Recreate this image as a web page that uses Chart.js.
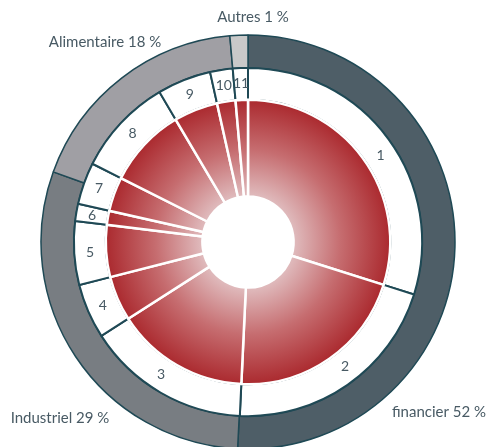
<!DOCTYPE html>
<html>
<head>
<meta charset="utf-8">
<script src="https://cdn.jsdelivr.net/npm/chart.js@4.4.1/dist/chart.umd.min.js"></script>
<style>
    html, body { margin: 0; padding: 0; background: #ffffff; }
</style>
</head>
<body>
<canvas id="graf" width="488" height="447"></canvas>
<script>
// outer ring: sectors (printed percent + share of the ring as drawn)
const secteurs    = ['financier', 'Industriel', 'Alimentaire', 'Autres'];
const secteursPct = [52, 29, 18, 1];
const secteursArc = [50.8, 29.7, 18.1, 1.4];

// inner pie: numbered positions
const postes    = ['1', '2', '3', '4', '5', '6', '7', '8', '9', '10', '11'];
const postesArc = [29.9, 20.9, 15.2, 5.1, 5.9, 1.6, 3.9, 9.1, 5.0, 2.1, 1.4];

const couleursSecteurs = ['#4e5e67', '#787d82', '#a09fa4', '#c9c9c9'];
const ligne = '#1f4955';
const texte = '#485a64';

let degrade = null;

function degradeRouge(context) {
    const chart = context.chart;
    const area = chart.chartArea;
    if (!area) return '#b03035';
    if (degrade) return degrade;
    const cx = (area.left + area.right) / 2;
    const cy = (area.top + area.bottom) / 2;
    const r = chart.getDatasetMeta(context.datasetIndex).controller.outerRadius || 142;
    const g = chart.ctx.createRadialGradient(cx, cy, 0, cx, cy, r);
    g.addColorStop(0, '#f4e9ea');
    g.addColorStop(0.32, '#e0bcbe');
    g.addColorStop(0.65, '#c66d70');
    g.addColorStop(1, '#ab2a2f');
    degrade = g;
    return g;
}

// where the sector names sit, relative to the centre
const posEtiquettes = [[191, 170], [-188, 176], [-143, -200], [5, -225]];
// where along its arc each number sits (0 = start, 1 = end)
const posNumeros = [0.53, 0.46, 0.56, 0.5, 0.5, 0.5, 0.5, 0.5, 0.5, 0.5, 0.5];

const etiquettes = {
    id: 'etiquettes',
    afterDatasetsDraw(chart) {
        const ctx = chart.ctx;
        const area = chart.chartArea;
        const cx = (area.left + area.right) / 2;
        const cy = (area.top + area.bottom) / 2;
        ctx.save();
        ctx.fillStyle = texte;
        ctx.textAlign = 'center';
        ctx.textBaseline = 'middle';

        ctx.font = '14px Lato';
        chart.getDatasetMeta(1).data.forEach((arc, i) => {
            const p = arc.getProps(['x', 'y', 'startAngle', 'endAngle', 'innerRadius', 'outerRadius'], true);
            const a = p.startAngle + (p.endAngle - p.startAngle) * posNumeros[i];
            const r = (p.innerRadius + p.outerRadius) / 2;
            ctx.fillText(postes[i], p.x + Math.cos(a) * r, p.y + Math.sin(a) * r);
        });

        ctx.font = '15px Lato';
        secteurs.forEach((nom, i) => {
            ctx.fillText(nom + ' ' + secteursPct[i] + ' %', cx + posEtiquettes[i][0], cy + posEtiquettes[i][1]);
        });
        ctx.restore();
    }
};

new Chart(document.getElementById('graf'), {
    type: 'doughnut',
    data: {
        labels: postes,
        datasets: [
            {
                data: secteursArc,
                backgroundColor: couleursSecteurs,
                borderColor: ligne,
                borderWidth: 1.5,
                weight: 33,
                order: 2,
                clip: false
            },
            {
                data: postesArc,
                backgroundColor: '#ffffff',
                borderColor: ligne,
                borderWidth: 2,
                weight: 32,
                order: 1,
                clip: false
            },
            {
                data: postesArc,
                backgroundColor: degradeRouge,
                borderColor: '#ffffff',
                borderWidth: 2.5,
                weight: 97,
                order: 0,
                clip: false
            }
        ]
    },
    options: {
        responsive: false,
        animation: false,
        radius: 207,
        cutout: 45,
        layout: { padding: { left: 8, right: 0, top: 37, bottom: 0 } },
        plugins: {
            legend: { display: false },
            tooltip: { enabled: false }
        }
    },
    plugins: [etiquettes]
});
</script>
</body>
</html>
